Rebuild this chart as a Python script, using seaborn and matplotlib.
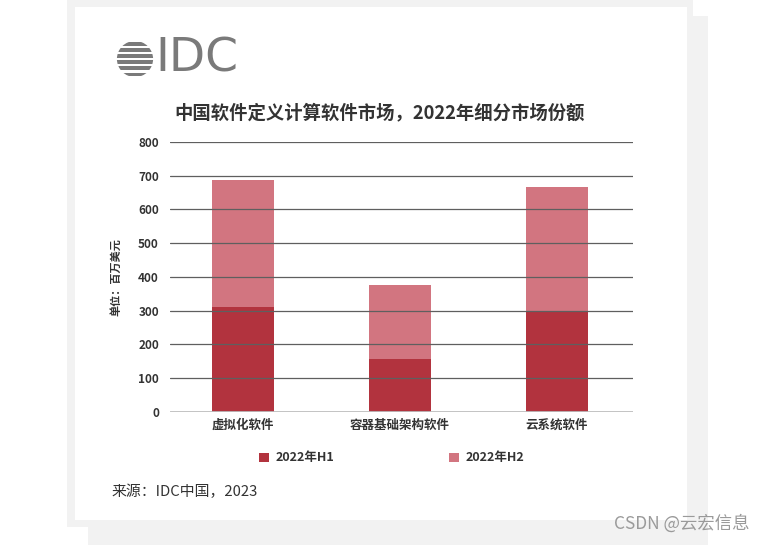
import matplotlib
matplotlib.use("Agg")
import matplotlib.pyplot as plt
from matplotlib.patches import Rectangle, Circle, Patch
import numpy as np
import pandas as pd
import seaborn as sns

# ---------------------------------------------------------
# DATA (单位：百万美元)
# ---------------------------------------------------------
categories = ["虚拟化软件", "容器基础架构软件", "云系统软件"]
h1_values = [310, 155, 298]
h2_values = [377, 220, 370]
series_names = ["2022年H1", "2022年H2"]
y_ticks = [0, 100, 200, 300, 400, 500, 600, 700, 800]

title = "中国软件定义计算软件市场，2022年细分市场份额"
y_label = "单位：百万美元"
source = "来源：IDC中国，2023"
watermark = "CSDN @云宏信息"

# ---------------------------------------------------------
# STYLE
# ---------------------------------------------------------
sns.set_theme(style="white")
plt.rcParams["font.family"] = ["Noto Sans CJK SC", "DejaVu Sans"]

c_h1 = "#b2333e"
c_h2 = "#d27580"
txt = "#333333"

W, H = 760, 545
fig = plt.figure(figsize=(W / 100, H / 100), dpi=100)
fig.patch.set_facecolor("white")

def px_rect(x0, y0, x1, y1, color, z):
    # rectangle in pixel coords (top-left origin)
    fig.patches.append(Rectangle((x0 / W, 1 - y1 / H), (x1 - x0) / W, (y1 - y0) / H,
                                 transform=fig.transFigure, facecolor=color,
                                 edgecolor="none", zorder=z))

# card with grey shadow
px_rect(67, 0, 693, 527, "#f2f2f2", -3)
px_rect(88, 16, 708, 545, "#f2f2f2", -3)
px_rect(75, 7, 687, 520, "white", -2)

# ---------------------------------------------------------
# BARS
# ---------------------------------------------------------
df = pd.DataFrame({"category": categories, "H1": h1_values, "H2": h2_values})
df["total"] = df["H1"] + df["H2"]

ax = fig.add_axes([170 / W, 1 - 411.7 / H, 463 / W, (411.7 - 142) / H])
ax.set_facecolor("none")
sns.barplot(data=df, x="category", y="total", color=c_h2, saturation=1,
            width=0.395, ax=ax, zorder=2, linewidth=0, edgecolor="none")
sns.barplot(data=df, x="category", y="H1", color=c_h1, saturation=1,
            width=0.395, ax=ax, zorder=2, linewidth=0, edgecolor="none")

ax.set_ylim(0, 800)
ax.set_xlim(-0.465, 2.485)
ax.set_yticks(y_ticks)
for v in y_ticks[1:]:
    ax.axhline(v, color="#5f5f5f", lw=0.9, zorder=3)
ax.axhline(0, color="#bdbdbd", lw=2, zorder=3)

for s in ax.spines.values():
    s.set_visible(False)
ax.tick_params(axis="both", length=0)
ax.tick_params(axis="y", pad=8, labelsize=8.5, labelcolor=txt)
ax.tick_params(axis="x", pad=5, labelsize=9, labelcolor=txt)
for lab in ax.get_yticklabels() + ax.get_xticklabels():
    lab.set_fontweight("bold")

ax.set_xlabel("")
ax.set_ylabel(y_label, fontsize=8, fontweight="bold", color=txt)
ax.yaxis.set_label_coords(-0.102, 0.5)

# legend
handles = [Patch(facecolor=c_h1, edgecolor="none"), Patch(facecolor=c_h2, edgecolor="none")]
fig.legend(handles, series_names, loc="center left",
           bbox_to_anchor=(248 / W, 1 - 458 / H), ncol=2, frameon=False,
           handlelength=0.75, handleheight=0.75, handletextpad=0.55,
           columnspacing=9.2, prop={"size": 9, "weight": "bold"},
           labelcolor=txt)

# title, source, watermark
fig.text(380 / W, 1 - 113 / H, title, ha="center", va="center",
         fontsize=13.2, fontweight="bold", color=txt, zorder=5)
fig.text(112 / W, 1 - 492 / H, source, ha="left", va="center",
         fontsize=10.7, color=txt, zorder=5)
fig.text(750 / W, 1 - 523 / H, watermark, ha="right", va="center",
         fontsize=12.5, color="#9a9a9a", zorder=5)

# ---------------------------------------------------------
# IDC LOGO
# ---------------------------------------------------------
logo_grey = "#7a7a7a"
lax = fig.add_axes([116 / W, 1 - 78 / H, 38 / W, 38 / H])
lax.set_xlim(-1.05, 1.05)
lax.set_ylim(-1.05, 1.05)
lax.axis("off")
clip = Circle((0, 0), 1.0, transform=lax.transData)
n_stripes = 6
edges = np.linspace(-1, 1, n_stripes + 1)
for i in range(n_stripes):
    r = lax.add_patch(Rectangle((-1.1, edges[i] + 0.06), 2.2, (edges[1] - edges[0]) - 0.14,
                                facecolor=logo_grey, edgecolor="none"))
    r.set_clip_path(clip)
fig.text(155 / W, 1 - 59.5 / H, "IDC", ha="left", va="center",
         fontsize=34, color=logo_grey, family="DejaVu Sans", zorder=5)

fig.savefig("out.png", dpi=100)
